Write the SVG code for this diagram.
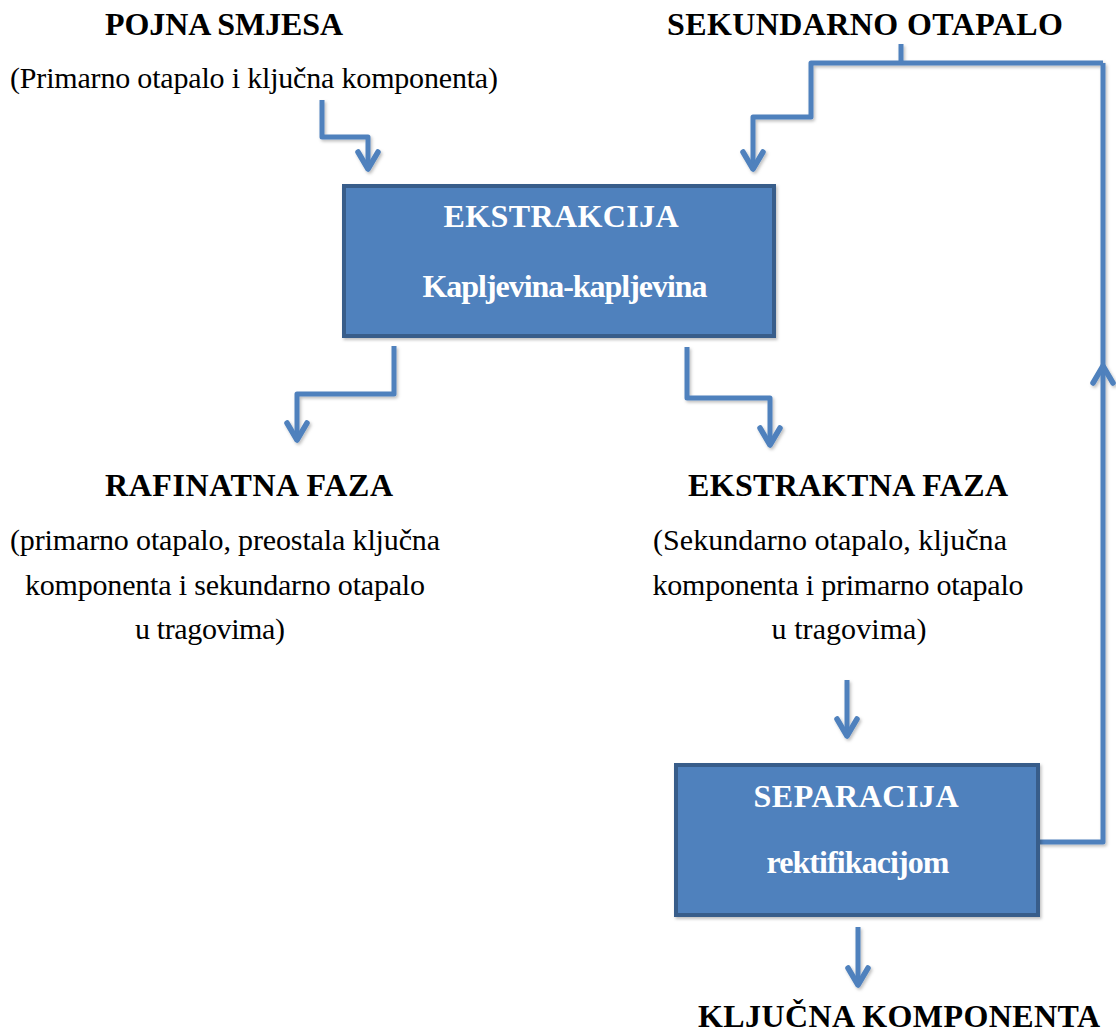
<svg xmlns="http://www.w3.org/2000/svg" width="1116" height="1032" viewBox="0 0 1116 1032">
<style>
  .t { font-family: "Liberation Serif", "Times New Roman", serif; fill: #000; text-anchor: middle; }
  .h { font-size: 32px; font-weight: bold; }
  .r { font-size: 30px; }
  .w { fill: #fff; font-weight: bold; }
  .box { fill: #4f81bd; stroke: #385d8a; stroke-width: 4; }
  .c { fill: none; stroke: #4f81bd; stroke-width: 5; stroke-linejoin: round; stroke-linecap: butt; }
</style>
<defs>
  <filter id="sh" x="-10%" y="-10%" width="130%" height="130%">
    <feDropShadow dx="1.5" dy="2" stdDeviation="1.5" flood-color="#000" flood-opacity="0.25"/>
  </filter>
  <marker id="ah" markerUnits="userSpaceOnUse" viewBox="-24 -14 28 28" markerWidth="28" markerHeight="28" refX="0" refY="0" orient="auto" overflow="visible">
    <path d="M-17,-10 L0,0 L-17,10" fill="none" stroke="#4f81bd" stroke-width="5.5" stroke-linecap="round" stroke-linejoin="round"/>
  </marker>
</defs>

<g id="connectors" filter="url(#sh)">
  <path class="c" d="M322,100 V137 H368 V169" marker-end="url(#ah)"/>
  <path class="c" d="M901,44 V63"/>
  <path class="c" d="M1103,63 H811 V117 H753 V169" marker-end="url(#ah)"/>
  <path class="c" d="M394,346 V394 H297 V440" marker-end="url(#ah)"/>
  <path class="c" d="M687,347 V398 H770 V445" marker-end="url(#ah)"/>
  <path class="c" d="M847,680 V736" marker-end="url(#ah)"/>
  <path class="c" d="M1040,842 H1103 V366" marker-end="url(#ah)"/>
  <path class="c" d="M1103,366 V63"/>
  <path class="c" d="M858,927 V985" marker-end="url(#ah)"/>
</g>

<g id="pojna-smjesa">
  <text class="t h" x="224" y="35" textLength="238" lengthAdjust="spacing">POJNA SMJESA</text>
  <text class="t r" x="254" y="88" textLength="488" lengthAdjust="spacing">(Primarno otapalo i ključna komponenta)</text>
</g>

<g id="sekundarno-otapalo">
  <text class="t h" x="865" y="35" textLength="396" lengthAdjust="spacing">SEKUNDARNO OTAPALO</text>
</g>

<g id="ekstrakcija">
  <rect class="box" x="344" y="186" width="430" height="150" filter="url(#sh)"/>
  <text class="t h w" x="561" y="227" textLength="235" lengthAdjust="spacing">EKSTRAKCIJA</text>
  <text class="t h w" x="565" y="297" textLength="285" lengthAdjust="spacing">Kapljevina-kapljevina</text>
</g>

<g id="rafinatna-faza">
  <text class="t h" x="249" y="496" textLength="288" lengthAdjust="spacing">RAFINATNA FAZA</text>
  <text class="t r" x="225" y="550" textLength="430" lengthAdjust="spacing">(primarno otapalo, preostala ključna</text>
  <text class="t r" x="225" y="595" textLength="400" lengthAdjust="spacing">komponenta i sekundarno otapalo</text>
  <text class="t r" x="210" y="639" textLength="150" lengthAdjust="spacing">u tragovima)</text>
</g>

<g id="ekstraktna-faza">
  <text class="t h" x="848" y="496" textLength="320" lengthAdjust="spacing">EKSTRAKTNA FAZA</text>
  <text class="t r" x="830" y="550" textLength="354" lengthAdjust="spacing">(Sekundarno otapalo, ključna</text>
  <text class="t r" x="838" y="595" textLength="371" lengthAdjust="spacing">komponenta i primarno otapalo</text>
  <text class="t r" x="849" y="639" textLength="155" lengthAdjust="spacing">u tragovima)</text>
</g>

<g id="separacija">
  <rect class="box" x="676" y="765" width="362" height="150" filter="url(#sh)"/>
  <text class="t h w" x="856" y="807" textLength="205" lengthAdjust="spacing">SEPARACIJA</text>
  <text class="t h w" x="858" y="873" textLength="183" lengthAdjust="spacing">rektifikacijom</text>
</g>

<g id="kljucna-komponenta">
  <text class="t h" x="899" y="1027" textLength="402" lengthAdjust="spacing">KLJUČNA KOMPONENTA</text>
</g>
</svg>
